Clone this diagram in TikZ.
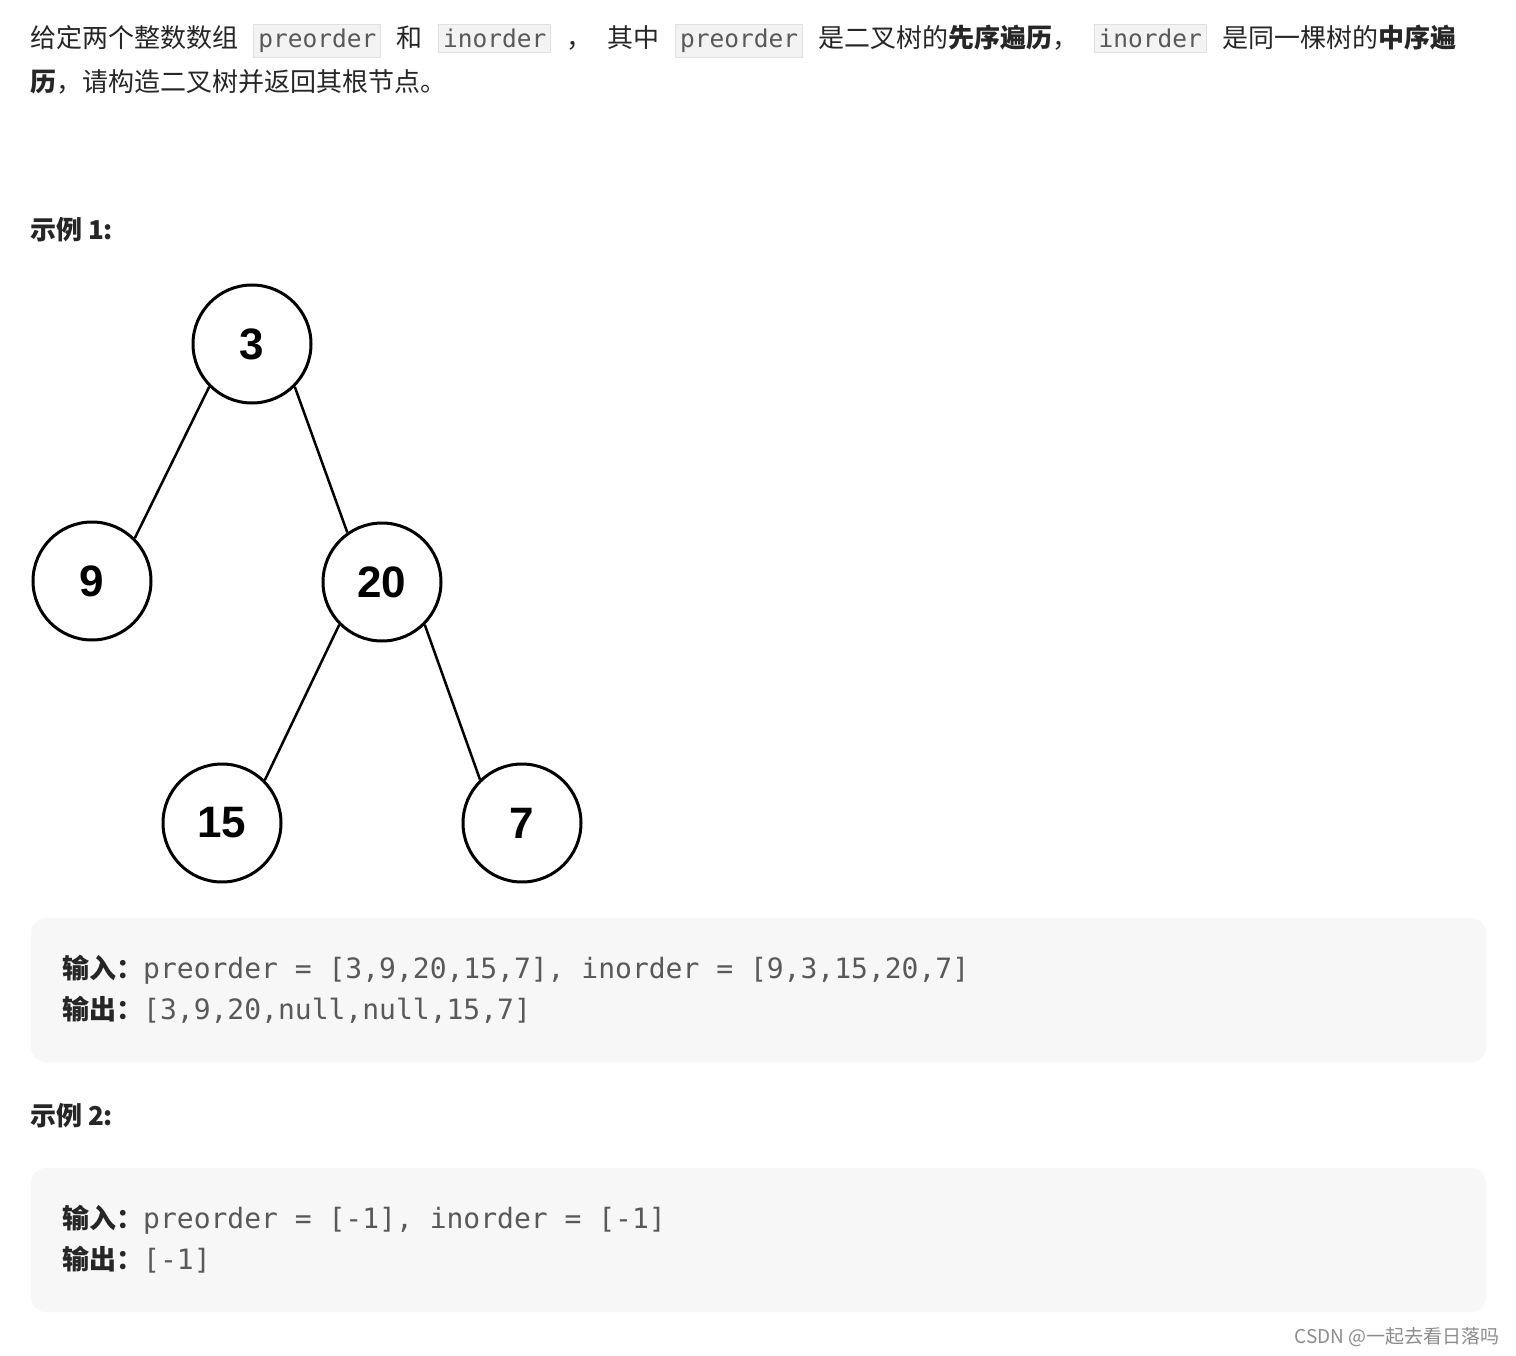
\documentclass[tikz,border=0pt]{standalone}
\usepackage{fontspec}
\setmainfont{Noto Sans CJK SC}
\setmonofont{DejaVu Sans Mono}
\newfontfamily\numf{Liberation Sans}
\definecolor{txt}{HTML}{262626}
\definecolor{codec}{HTML}{595959}
\definecolor{cbg}{HTML}{F7F7F7}
\definecolor{ibg}{HTML}{F3F3F3}
\definecolor{ibd}{HTML}{E0E0E0}
\newcommand{\ic}[1]{{\setlength{\fboxsep}{4pt}\setlength{\fboxrule}{1pt}\fcolorbox{ibd}{ibg}{\fontsize{24.5}{26}\selectfont\ttfamily\color{codec}#1}}}
\newcommand{\gp}{\hskip 6pt plus 1fil\relax}
\begin{document}
\begin{tikzpicture}[x=1pt,y=-1pt,
  tn/.style={circle,draw=black,line width=3pt,minimum size=118pt,inner sep=0pt,font=\numf\bfseries\fontsize{44}{44}\selectfont},
  edge/.style={line width=2.5pt},
  para/.style={anchor=west,inner sep=0pt,text=txt,font=\fontsize{26}{30}\selectfont},
  cbox/.style={fill=cbg,rounded corners=15pt,draw=none},
  cl/.style={anchor=west,inner sep=0pt,text=codec,font=\fontsize{28}{30}\selectfont\ttfamily}]
\useasboundingbox[fill=white] (0,0) rectangle (1516,1356);
\node[para] (l1) at (30,41) {\hbox to 1426pt{给定两个整数数组\gp\ic{preorder}\gp 和\gp\ic{inorder}\gp ，\gp 其中\gp\ic{preorder}\gp 是二叉树的{\bfseries 先序遍历}，\gp\ic{inorder}\gp 是同一棵树的{\bfseries 中序遍}}};
\node[para] (l2) at (30,82) {{\bfseries 历}，请构造二叉树并返回其根节点。};
\node[para,font=\bfseries\fontsize{26}{30}\selectfont] (ex1) at (30,230) {示例 1:};
\node[tn] (n3) at (252,344) {3};
\node[tn] (n9) at (92,581) {9};
\node[tn] (n20) at (382,582) {20};
\node[tn] (n15) at (222,823) {15};
\node[tn] (n7) at (522,823) {7};
\draw[edge] (n3.225) -- (n9.45);
\draw[edge] (n3.-45) -- (n20.125);
\draw[edge] (n20.225) -- (n15.45);
\draw[edge] (n20.-45) -- (n7.134);
\path[cbox] (31,918) rectangle (1486,1062);
\node[cl] (a1) at (62,970) {{\rmfamily\bfseries\color{txt}\fontsize{27}{30}\selectfont 输入：}preorder = [3,9,20,15,7], inorder = [9,3,15,20,7]};
\node[cl] (a2) at (62,1010) {{\rmfamily\bfseries\color{txt}\fontsize{27}{30}\selectfont 输出：}[3,9,20,null,null,15,7]};
\node[para,font=\bfseries\fontsize{26}{30}\selectfont] (ex2) at (30,1116) {示例 2:};
\path[cbox] (31,1168) rectangle (1486,1312);
\node[cl] (b1) at (62,1220) {{\rmfamily\bfseries\color{txt}\fontsize{27}{30}\selectfont 输入：}preorder = [-1], inorder = [-1]};
\node[cl] (b2) at (62,1260) {{\rmfamily\bfseries\color{txt}\fontsize{27}{30}\selectfont 输出：}[-1]};
\node[anchor=east,inner sep=0pt,text=black!45,font=\fontsize{19}{20}\selectfont] (wm) at (1500,1337) {CSDN @一起去看日落吗};
\end{tikzpicture}
\end{document}
